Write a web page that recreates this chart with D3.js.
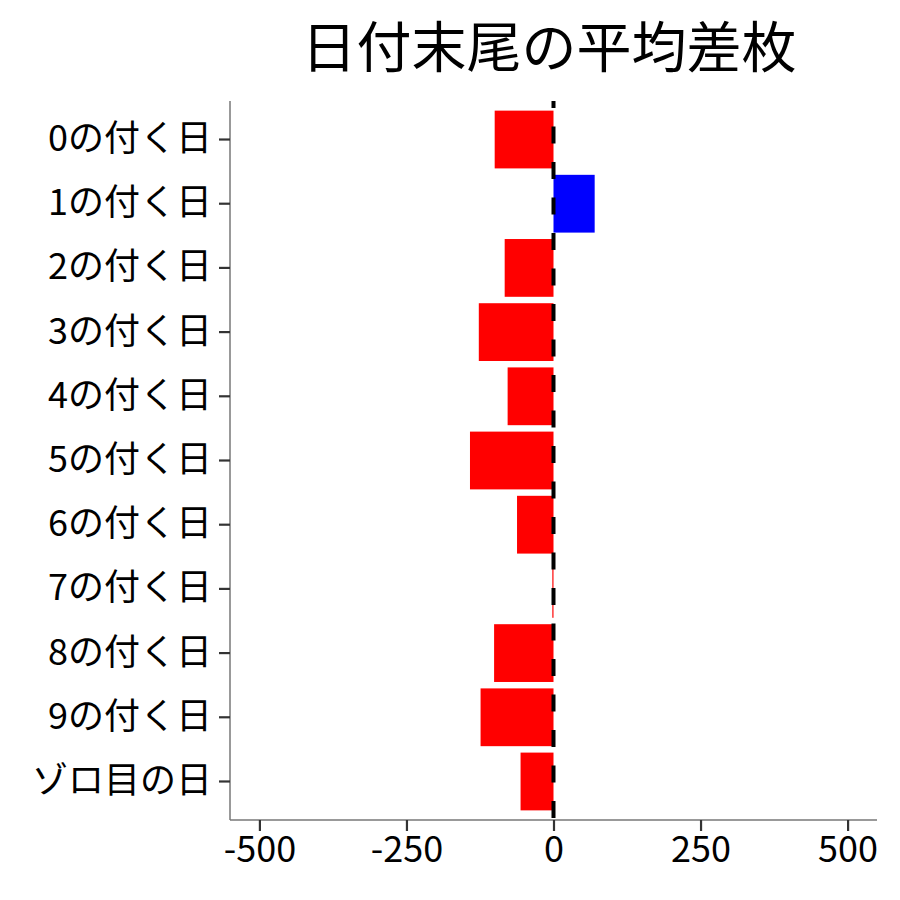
<!DOCTYPE html>
<html lang="ja">
<head>
  <meta charset="UTF-8">
  <title>日付末尾の平均差枚</title>
  <style>
    body { margin: 0; background: #fff; }
    svg text { font-family: "Noto Sans CJK JP", "Noto Sans", sans-serif; fill: #000; }
  </style>
  <script src="https://d3js.org/d3.v7.min.js"></script>
</head>
<body>
  <div id="chart"></div>
  <script>
  // data
  const categories = ['0の付く日','1の付く日','2の付く日','3の付く日','4の付く日',
                      '5の付く日','6の付く日','7の付く日','8の付く日','9の付く日','ゾロ目の日'];
  const values = [-100, 70, -83, -127, -78, -142, -62, -2, -101, -124, -56];
  const xTicks = [-500, -250, 0, 250, 500];
  const titleText = '日付末尾の平均差枚';

  const W = 900, H = 900;
  const m = { t: 101, r: 23, b: 80, l: 230 };

  const svg = d3.select('#chart').append('svg')
    .attr('width', W).attr('height', H);

  const x = d3.scaleLinear().domain([-550, 550]).range([m.l, W - m.r]);
  const y = d3.scaleBand().domain(categories)
    .range([m.t, H - m.b])
    .paddingInner(0.1).paddingOuter(0.15);

  // bars
  svg.selectAll('rect.bar').data(categories).join('rect')
    .attr('class', 'bar')
    .attr('x', (d, i) => x(Math.min(0, values[i])))
    .attr('y', d => y(d))
    .attr('width', (d, i) => Math.abs(x(values[i]) - x(0)))
    .attr('height', y.bandwidth())
    .attr('fill', (d, i) => values[i] >= 0 ? '#0000ff' : '#ff0000');

  // zero line
  svg.append('line')
    .attr('x1', x(0)).attr('x2', x(0))
    .attr('y1', m.t).attr('y2', H - m.b)
    .attr('stroke', '#000').attr('stroke-width', 4)
    .attr('stroke-dasharray', '17,18.5')
    .attr('stroke-dashoffset', 10);

  // axes
  const xAxis = svg.append('g')
    .attr('transform', `translate(0,${H - m.b})`)
    .call(d3.axisBottom(x).tickValues(xTicks).tickFormat(d => String(d))
      .tickSize(11).tickPadding(5));
  const yAxis = svg.append('g')
    .attr('transform', `translate(${m.l},0)`)
    .call(d3.axisLeft(y).tickSize(11).tickPadding(7));

  [xAxis, yAxis].forEach(g => {
    g.select('.domain').attr('stroke', '#777').attr('stroke-width', 1.5);
    g.selectAll('.tick line').attr('stroke', '#333').attr('stroke-width', 2.2);
    g.selectAll('.tick text').attr('font-size', 36).attr('fill', '#000')
      .attr('font-family', '"Noto Sans CJK JP", sans-serif');
  });
  xAxis.select('.domain').attr('d', `M${m.l},0H${W - m.r}`);
  yAxis.select('.domain').attr('d', `M0,${m.t}V${H - m.b}`);

  // title
  svg.append('text')
    .attr('x', 549).attr('y', 43)
    .attr('text-anchor', 'middle').attr('dominant-baseline', 'central')
    .attr('font-size', 55)
    .text(titleText);
  </script>
</body>
</html>
